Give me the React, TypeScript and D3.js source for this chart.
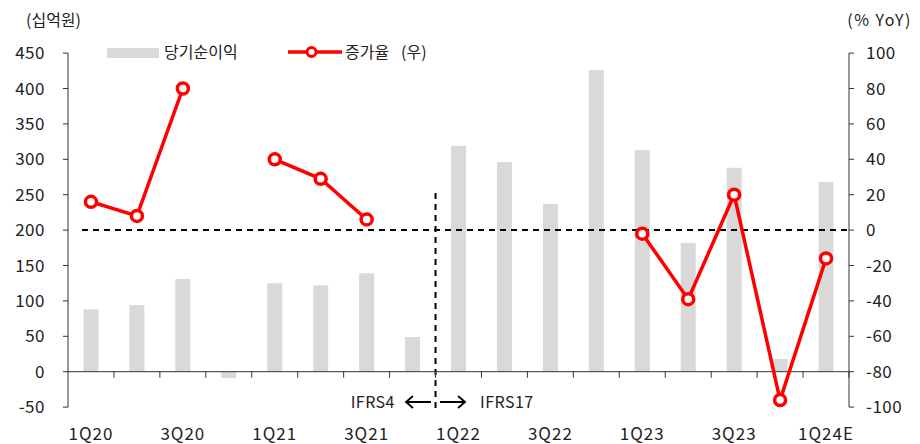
import React from 'react'
import * as d3 from 'd3'

const quarters = ['1Q20', '2Q20', '3Q20', '4Q20', '1Q21', '2Q21', '3Q21', '4Q21', '1Q22', '2Q22', '3Q22', '4Q22', '1Q23', '2Q23', '3Q23', '4Q23', '1Q24E']
const netIncome = [88, 94, 131, -9, 125, 122, 139, 49, 319, 296, 237, 426, 313, 182, 288, 18, 268]
const growth: (number | null)[] = [16, 8, 80, null, 40, 29, 6, null, null, null, null, null, -2, -39, 20, -96, -16]
const leftTicks = [-50, 0, 50, 100, 150, 200, 250, 300, 350, 400, 450]
const rightTicks = [-100, -80, -60, -40, -20, 0, 20, 40, 60, 80, 100]

const W = 920
const H = 444
const font = '"Noto Sans CJK KR", "Noto Sans", sans-serif'

export default () => {
  const x = d3.scaleBand<string>().domain(quarters).range([68, 849]).padding(0)
  const yL = d3.scaleLinear().domain([-50, 450]).range([407.1, 53.1])
  const yR = d3.scaleLinear().domain([-100, 100]).range([407.1, 53.1])
  const bw = 15
  const cx = (q: string) => (x(q) as number) + x.bandwidth() / 2

  const pts = quarters.map((q, i) => ({ q, v: growth[i] }))
  const line = d3
    .line<{ q: string; v: number | null }>()
    .defined(d => d.v !== null)
    .x(d => cx(d.q))
    .y(d => yR(d.v as number))

  const zeroY = yL(0)
  const splitX = x('1Q22') as number

  return (
    <svg width={W} height={H} style={{ position: 'absolute', left: 0, top: 0, background: '#fff' }} fontFamily={font}>
      {/* bars */}
      {quarters.map((q, i) => (
        <rect
          key={q}
          x={cx(q) - bw / 2}
          y={Math.min(yL(netIncome[i]), zeroY)}
          width={bw}
          height={Math.abs(yL(netIncome[i]) - zeroY)}
          fill="#d9d9d9"
        />
      ))}

      {/* zero growth dashed line */}
      <line x1={82} x2={849} y1={yR(0)} y2={yR(0)} stroke="#000" strokeWidth={2} strokeDasharray="6,5" />
      {/* IFRS split */}
      <line x1={splitX} x2={splitX} y1={193} y2={410} stroke="#000" strokeWidth={2} strokeDasharray="6,5" />

      {/* left axis */}
      <line x1={68} x2={68} y1={yL(450)} y2={yL(-50)} stroke="#333" />
      {leftTicks.map(t => (
        <g key={t}>
          <line x1={63} x2={68} y1={yL(t)} y2={yL(t)} stroke="#333" />
          <text x={45} y={yL(t)} dy="0.36em" textAnchor="end" fontSize={17} fill="#222" letterSpacing={0.5}>
            {t}
          </text>
        </g>
      ))}

      {/* right axis */}
      <line x1={849} x2={849} y1={yR(100)} y2={yR(-100)} stroke="#333" />
      {rightTicks.map(t => (
        <g key={t}>
          <line x1={849} x2={854} y1={yR(t)} y2={yR(t)} stroke="#333" />
          <text x={866} y={yR(t)} dy="0.36em" textAnchor="start" fontSize={17} fill="#222" letterSpacing={0.5}>
            {t}
          </text>
        </g>
      ))}

      {/* x axis */}
      <line x1={68} x2={849} y1={zeroY} y2={zeroY} stroke="#333" />
      {quarters.map(q => (
        <line key={q} x1={(x(q) as number) + x.bandwidth()} x2={(x(q) as number) + x.bandwidth()} y1={zeroY} y2={zeroY + 6} stroke="#333" />
      ))}
      {quarters.map((q, i) =>
        i % 2 === 0 ? (
          <text key={q} x={cx(q)} y={434} dy="0.36em" textAnchor="middle" fontSize={17} fill="#222" letterSpacing={1}>
            {q}
          </text>
        ) : null
      )}

      {/* growth line */}
      <path d={line(pts) as string} fill="none" stroke="#ff0000" strokeWidth={3.5} />
      {pts
        .filter(d => d.v !== null)
        .map(d => (
          <circle key={d.q} cx={cx(d.q)} cy={yR(d.v as number)} r={5.5} fill="#fff" stroke="#ff0000" strokeWidth={3.5} />
        ))}

      {/* IFRS labels */}
      <text x={395} y={402} dy="0.36em" textAnchor="end" fontSize={16} fill="#222" letterSpacing={0.5}>IFRS4</text>
      <text x={480} y={402} dy="0.36em" textAnchor="start" fontSize={16} fill="#222" letterSpacing={0.5}>IFRS17</text>
      <g stroke="#000" strokeWidth={1.8} fill="none">
        <path d="M406,402 H431 M413,396 L406,402 L413,408" />
        <path d="M440,402 H465 M458,396 L465,402 L458,408" />
      </g>

      {/* unit labels */}
      <text x={26} y={20} dy="0.36em" fontSize={16} fill="#222">(십억원)</text>
      <text x={912} y={20} dy="0.36em" textAnchor="end" fontSize={16} fill="#222" letterSpacing={1.5}>(% YoY)</text>

      {/* legend */}
      <rect x={107} y={48} width={52} height={10} fill="#d9d9d9" />
      <text x={164} y={52} dy="0.36em" fontSize={16} fill="#222">당기순이익</text>
      <line x1={288} x2={342} y1={52} y2={52} stroke="#ff0000" strokeWidth={3.5} />
      <circle cx={311.5} cy={52} r={4.5} fill="#fff" stroke="#ff0000" strokeWidth={3} />
      <text x={345} y={52} dy="0.36em" fontSize={16} fill="#222">증가율</text>
      <text x={401} y={52} dy="0.36em" fontSize={16} fill="#222">(우)</text>
    </svg>
  )
}
